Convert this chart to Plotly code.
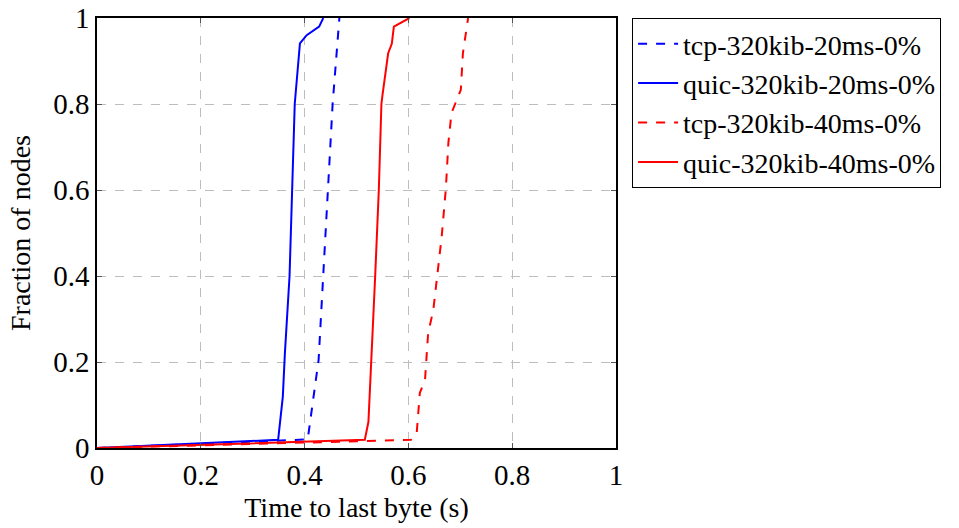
import plotly.graph_objects as go

tcp20_x = [0.0, 0.406, 0.427, 0.436, 0.446, 0.454, 0.467]
tcp20_y = [0.0, 0.02, 0.205, 0.4, 0.6, 0.8, 1.0]

quic20_x = [0.0, 0.349, 0.358, 0.362, 0.371, 0.376, 0.381, 0.391, 0.404, 0.428, 0.436]
quic20_y = [0.0, 0.019, 0.119, 0.22, 0.4, 0.6, 0.8, 0.941, 0.96, 0.98, 1.0]

tcp40_x = [0.0, 0.605, 0.616, 0.622, 0.632, 0.635, 0.638, 0.648, 0.656, 0.664, 0.672, 0.677, 0.683, 0.690, 0.696, 0.701, 0.705, 0.715]
tcp40_y = [0.0, 0.019, 0.035, 0.128, 0.158, 0.205, 0.267, 0.321, 0.4, 0.49, 0.6, 0.709, 0.779, 0.8, 0.817, 0.833, 0.918, 1.0]

quic40_x = [0.0, 0.516, 0.523, 0.529, 0.536, 0.543, 0.548, 0.550, 0.561, 0.568, 0.572, 0.602]
quic40_y = [0.0, 0.019, 0.061, 0.205, 0.4, 0.6, 0.8, 0.82, 0.918, 0.94, 0.98, 1.0]

tick_vals = [0, 0.2, 0.4, 0.6, 0.8, 1]
tick_text = ["0", "0.2", "0.4", "0.6", "0.8", "1"]

series = [
    ("tcp-320kib-20ms-0%", tcp20_x, tcp20_y, "#0000ff", "dash"),
    ("quic-320kib-20ms-0%", quic20_x, quic20_y, "#0000ff", "solid"),
    ("tcp-320kib-40ms-0%", tcp40_x, tcp40_y, "#ff0000", "dash"),
    ("quic-320kib-40ms-0%", quic40_x, quic40_y, "#ff0000", "solid"),
]

fig = go.Figure()
for name, xs, ys, color, dash in series:
    fig.add_trace(go.Scatter(x=xs, y=ys, mode="lines", name=name,
                             line=dict(color=color, width=2, dash=dash)))

font = "Liberation Serif, Times New Roman, serif"
axis_common = dict(
    range=[0, 1], tickvals=tick_vals, ticktext=tick_text,
    showgrid=True, gridcolor="#bdbdbd", griddash="dash", gridwidth=1,
    showline=True, linecolor="black", linewidth=1.5, mirror="ticks",
    ticks="inside", ticklen=5, tickcolor="#555555",
    zeroline=False, tickfont=dict(family=font, size=29, color="black"),
    ticklabeloverflow="allow", automargin=False,
)

fig.update_layout(
    width=959, height=528,
    margin=dict(l=97, r=343, t=18, b=80, autoexpand=False),
    plot_bgcolor="white", paper_bgcolor="white",
    font=dict(family=font, color="black"),
    xaxis=dict(**axis_common, title=dict(text="Time to last byte (s)",
                                         font=dict(family=font, size=28), standoff=8)),
    yaxis=dict(**axis_common, title=dict(text="Fraction of nodes",
                                         font=dict(family=font, size=28), standoff=14)),
    legend=dict(x=1.031, y=1.0, xanchor="left", yanchor="top",
                bordercolor="black", borderwidth=1, bgcolor="white",
                font=dict(family=font, size=28, color="black"),
                tracegroupgap=0, itemwidth=40),
    showlegend=True,
)

fig.write_html("out.html", config={"displayModeBar": False},
               post_script="document.body.style.margin='0';")
